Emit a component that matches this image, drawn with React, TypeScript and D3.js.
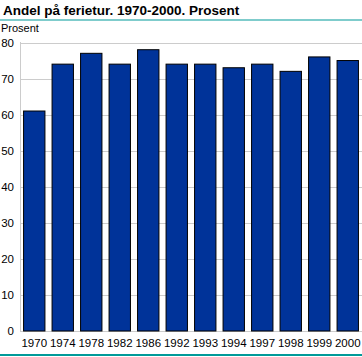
import React from "react";
import * as d3 from "d3";

const years = ["1970", "1974", "1978", "1982", "1986", "1992", "1993", "1994", "1997", "1998", "1999", "2000"];
const values = [61, 74, 77, 74, 78, 74, 74, 73, 74, 72, 76, 75];
const yTicks = [0, 10, 20, 30, 40, 50, 60, 70, 80];
const title = "Andel på ferietur. 1970-2000. Prosent";
const unitLabel = "Prosent";

const W = 362;
const H = 357;
const FONT = "'Liberation Sans', Arial, sans-serif";

export default function App() {
  const x = d3.scaleBand<string>().domain(years).range([20, 362]).paddingInner(0.25).paddingOuter(0.125);
  const y = d3.scaleLinear().domain([0, 80]).range([331, 42.5]);

  return (
    <svg width={W} height={H} style={{ position: "absolute", left: 0, top: 0 }} fontFamily={FONT}>
      <rect x={0} y={0} width={W} height={H} fill="#fff" />
      <text x={3} y={14.5} fontSize={13.5} fontWeight="bold" fill="#000">{title}</text>
      <line x1={0} x2={W} y1={20} y2={20} stroke="#009a99" strokeWidth={1.2} />
      <text x={1} y={32} fontSize={11} fill="#000">{unitLabel}</text>
      {yTicks.map((t) => (
        <g key={t}>
          {t > 0 && <line x1={20} x2={W} y1={Math.round(y(t)) + 0.5} y2={Math.round(y(t)) + 0.5} stroke="#cccccc" strokeWidth={1} />}
          <text x={14} y={y(t) + 4} fontSize={11.5} textAnchor="end" fill="#000">{t}</text>
        </g>
      ))}
      <line x1={20.5} x2={20.5} y1={42} y2={331} stroke="#cccccc" strokeWidth={1} />
      <line x1={20} x2={W} y1={331.5} y2={331.5} stroke="#cccccc" strokeWidth={1} />
      {years.map((yr, i) => (
        <rect
          key={yr}
          x={x(yr)!}
          y={y(values[i])}
          width={x.bandwidth()}
          height={y(0) - y(values[i])}
          fill="#003399"
          stroke="#000"
          strokeWidth={1}
        />
      ))}
      {years.map((yr) => (
        <text key={yr} x={x(yr)! + x.bandwidth() / 2} y={347} fontSize={11.5} textAnchor="middle" fill="#000">{yr}</text>
      ))}
      <line x1={0} x2={W} y1={355} y2={355} stroke="#009a99" strokeWidth={2} />
    </svg>
  );
}
